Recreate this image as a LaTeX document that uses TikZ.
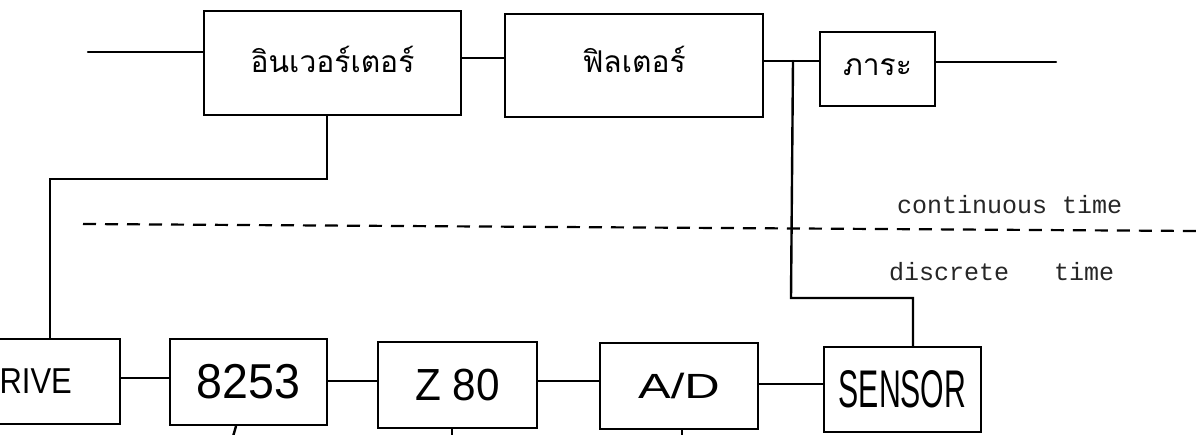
\documentclass[tikz,border=0pt]{standalone}
\usepackage{fontspec}
\usepackage{graphicx}
\newfontfamily\thaifont[Script=Thai]{Loma}
\newfontfamily\handfont{Liberation Sans}
\newfontfamily\typefont{Liberation Mono}
\newcommand\thlab[1]{{\thaifont\fontsize{30}{30}\selectfont #1}}
\newcommand\hwlab[3]{\scalebox{#1}[1]{\fontsize{#2}{#2}\selectfont\handfont #3}}
\begin{document}
\begin{tikzpicture}[x=1pt,y=-1pt,
  blk/.style={draw, line width=2.4pt, rectangle, inner sep=0pt},
  thaiblk/.style={blk, text height=#1, text depth=0pt},
  wire/.style={line width=2.4pt, line cap=round, line join=miter},
  divider/.style={line width=2.2pt, dash pattern=on 13pt off 9pt},
  note/.style={inner sep=0pt, text=black!85, font=\typefont\fontsize{25}{25}\selectfont}]
\useasboundingbox (0,0) rectangle (1197,434);
\clip (0,0) rectangle (1197,434);

% upper chain
\node[thaiblk=18pt, minimum width=257pt, minimum height=104pt] (inv) at (332.5,63) {\thlab{อินเวอร์เตอร์}};
\node[thaiblk=13pt, minimum width=258pt, minimum height=103pt] (filt) at (634,65.5) {\thlab{ฟิลเตอร์}};
\node[thaiblk=12pt, minimum width=115pt, minimum height=74pt] (load) at (877.5,69) {\thlab{ภาระ}};

% lower chain
\node[blk, minimum width=191pt, minimum height=85pt] (drive) at (24.5,381.5) {\hwlab{0.86}{36}{DRIVE}};
\node[blk, minimum width=157pt, minimum height=86pt] (c8253) at (248.5,382) {\hwlab{0.95}{49}{8253}};
\node[blk, minimum width=159pt, minimum height=86pt] (z80) at (457.5,385) {\hwlab{0.94}{45}{Z 80}};
\node[blk, minimum width=158pt, minimum height=86pt] (ad) at (679,386) {\hwlab{1.4}{35}{A/D}};
\node[blk, minimum width=157pt, minimum height=85pt] (sensor) at (902.5,389.5) {\hwlab{0.57}{53}{SENSOR}};

% free ends and bends
\coordinate (in) at (88,52);
\coordinate (out) at (1056,62);
\coordinate (y58) at (0,58);
\coordinate (y61) at (0,61);
\coordinate (y62) at (0,62);
\coordinate (j) at (793,61);
\coordinate (k1) at (327,179);
\coordinate (k2) at (50,179);
\coordinate (k3) at (791,298);
\coordinate (k4) at (913,298);
\coordinate (s1) at (232,440);
\coordinate (s2) at (452,440);
\coordinate (s3) at (682,440);

% connectors, upper
\draw[wire] (in) -- (in -| inv.west);
\draw[wire] (inv.east |- y58) -- (filt.west |- y58);
\draw[wire] (filt.east |- y61) -- (load.west |- y61);
\draw[wire] (load.east |- y62) -- (out);
\draw[wire] (inv.south -| k1) -- (k1) -- (k2) -- (drive.north -| k2);
\draw[wire] (j) -- (k3) -- (k4) -- (sensor.north -| k4);

% connectors, lower
\coordinate (y378) at (0,378);
\coordinate (y381) at (0,381);
\coordinate (y384) at (0,384);
\draw[wire] (drive.east |- y378) -- (c8253.west |- y378);
\draw[wire] (c8253.east |- y381) -- (z80.west |- y381);
\draw[wire] (z80.east |- y381) -- (ad.west |- y381);
\draw[wire] (ad.east |- y384) -- (sensor.west |- y384);
\draw[wire] (c8253.south -| 236,0) -- (s1);
\draw[wire] (z80.south -| s2) -- (s2);
\draw[wire] (ad.south -| s3) -- (s3);

% boundary between time domains
\coordinate (d1) at (83,224);
\coordinate (d2) at (1197,231);
\draw[divider] (d1) -- (d2);
\node[note, anchor=base west] (ct) at (897,213) {continuous time};
\node[note, anchor=base west] (dt) at (889,280) {discrete~~~time};
\end{tikzpicture}
\end{document}
